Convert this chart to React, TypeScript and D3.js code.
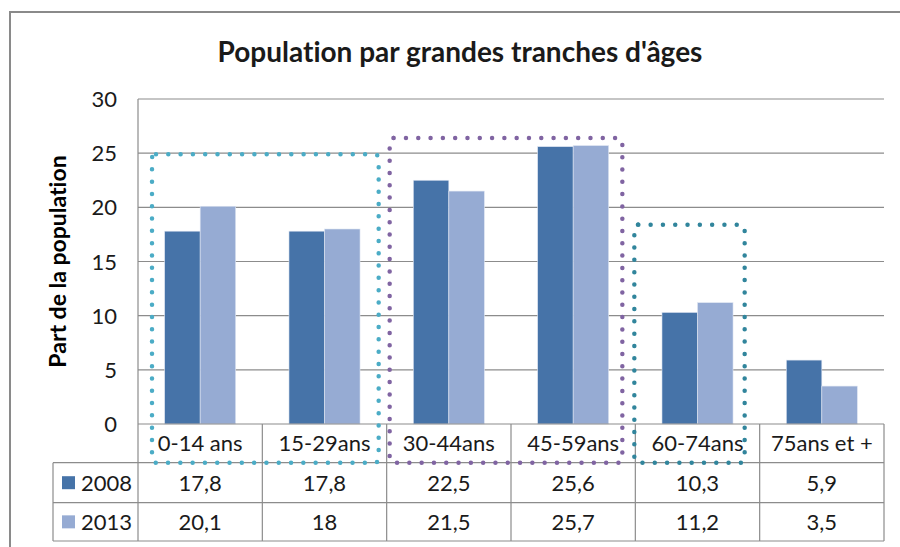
import React from "react";
import * as d3 from "d3";

const categories = ["0-14 ans", "15-29ans", "30-44ans", "45-59ans", "60-74ans", "75ans et +"];
const series = ["2008", "2013"];
const values2008 = [17.8, 17.8, 22.5, 25.6, 10.3, 5.9];
const values2013 = [20.1, 18, 21.5, 25.7, 11.2, 3.5];
const yTicks = [0, 5, 10, 15, 20, 25, 30];
const title = "Population par grandes tranches d'âges";
const yTitle = "Part de la population";

// highlight boxes: first/last category index and top value
const boxStart = [0, 2, 4];
const boxEnd = [1, 3, 4];
const boxTop = [24.9, 26.4, 18.4];
const boxColors = ["#4BACC6", "#8064A2", "#31859C"];
const boxInsetL = [14, 3, -1];
const boxInsetR = [8, 13, 15];

const W = 900;
const H = 547;
const FONT = "Lato, 'Open Sans', sans-serif";
const COL_DARK = "#4673A8";
const COL_LIGHT = "#96ABD3";
const GRID = "#8c8c8c";
const TXT = "#1a1a1a";
const FS = 22;

export default function App() {
  const left = 138;
  const right = 884;
  const top = 99;
  const base = 424;
  const rowH = [38.7, 40, 38.3];
  const tableLeft = 53;

  const x = d3.scaleBand<string>().domain(categories).range([left, right]).paddingInner(0).paddingOuter(0);
  const y = d3.scaleLinear().domain([0, 30]).range([base, top]);
  const bw = x.bandwidth();
  const barW = bw / 3.5;
  const x1 = d3.scaleBand<string>().domain(series).range([barW * 0.75, barW * 0.75 + 2 * barW]);
  const data = [values2008, values2013];
  const colors = [COL_DARK, COL_LIGHT];

  const r1 = base + rowH[0];
  const r2 = r1 + rowH[1];
  const r3 = r2 + rowH[2];
  const fmt = (v: number) => String(v).replace(".", ",");
  const bounds = categories.map((c) => x(c)!).concat([right]);

  return (
    <svg width={W} height={H} style={{ position: "absolute", left: 0, top: 0, background: "#fff", fontVariantLigatures: "none" }} fontFamily={FONT}>
      <rect x={10} y={12} width={W + 20} height={H + 20} fill="#fff" stroke="#8a8a8a" strokeWidth={2} />
      <text x={460} y={62} textAnchor="middle" fontSize={28} fontWeight="bold" fill={TXT}>{title}</text>

      {/* grid lines */}
      {yTicks.filter((t) => t > 0).map((t) => (
        <line key={t} x1={left} x2={right} y1={y(t)} y2={y(t)} stroke={GRID} strokeWidth={1.2} />
      ))}
      <line x1={left} x2={left} y1={top} y2={base} stroke={GRID} strokeWidth={1.2} />
      {yTicks.map((t) => (
        <text key={t} x={117} y={y(t) + 8} textAnchor="end" fontSize={FS} fill={TXT}>{t}</text>
      ))}
      <text transform={`translate(66,${(top + base) / 2}) rotate(-90)`} textAnchor="middle" fontSize={23} fontWeight="bold" fill="#000">{yTitle}</text>

      {/* bars */}
      {categories.map((c, i) =>
        series.map((s, j) => (
          <rect key={c + s} x={x(c)! + x1(s)!} y={y(data[j][i])} width={x1.bandwidth()} height={base - y(data[j][i])}
            fill={colors[j]} stroke="#dfe6f2" strokeWidth={0.6} />
        ))
      )}

      {/* table */}
      <g stroke={GRID} strokeWidth={1.2} fill="none">
        <line x1={left} x2={right} y1={base} y2={base} />
        <line x1={tableLeft} x2={right} y1={r1} y2={r1} />
        <line x1={tableLeft} x2={right} y1={r2} y2={r2} />
        <line x1={tableLeft} x2={right} y1={r3} y2={r3} />
        <line x1={tableLeft} x2={tableLeft} y1={r1} y2={r3} />
        {bounds.map((b, i) => (
          <line key={i} x1={b} x2={b} y1={base} y2={r3} />
        ))}
      </g>
      {categories.map((c) => (
        <text key={c} x={x(c)! + bw / 2} y={base + rowH[0] / 2 + 8} textAnchor="middle" fontSize={FS} fill={TXT}>{c}</text>
      ))}
      {series.map((s, j) => {
        const ry = j === 0 ? r1 : r2;
        const rh = rowH[j + 1];
        return (
          <g key={s}>
            <rect x={62} y={ry + rh / 2 - 6.5} width={13} height={13} fill={colors[j]} />
            <text x={81} y={ry + rh / 2 + 8} fontSize={FS} fill={TXT}>{s}</text>
            {categories.map((c, i) => (
              <text key={c} x={x(c)! + bw / 2} y={ry + rh / 2 + 8} textAnchor="middle" fontSize={FS} fill={TXT}>{fmt(data[j][i])}</text>
            ))}
          </g>
        );
      })}

      {/* dotted highlight boxes */}
      {boxStart.map((s, k) => {
        const bx0 = x(categories[s])! + boxInsetL[k];
        const bx1 = x(categories[boxEnd[k]])! + bw - boxInsetR[k];
        const by0 = y(boxTop[k]);
        const by1 = r1;
        return (
          <rect key={k} x={bx0} y={by0} width={bx1 - bx0} height={by1 - by0} rx={4}
            fill="none" stroke={boxColors[k]} strokeWidth={4.5} strokeLinecap="round" strokeDasharray="0 12.3" />
        );
      })}
    </svg>
  );
}
